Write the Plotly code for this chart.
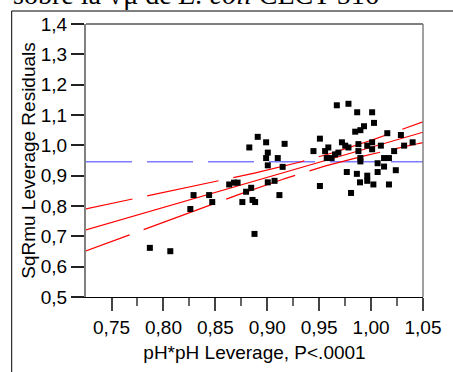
import numpy as np
import plotly.graph_objects as go

# ---- data ----
x_vals = [0.7869, 0.8066, 0.829, 0.8259, 0.844, 0.847, 0.8633, 0.868, 0.8714, 0.8827,
          0.8796, 0.876, 0.8845, 0.8858, 0.8883, 0.8877, 0.8908, 0.8989, 0.9005, 0.8989,
          0.9005, 0.9101, 0.9148, 0.9167, 0.9005, 0.907, 0.9117, 0.9507, 0.9445, 0.9557,
          0.9588, 0.9573, 0.962, 0.9653, 0.9685, 0.9507, 0.967, 0.9782, 0.9866, 1.001,
          0.9932, 0.9897, 0.9847, 1.0028, 0.9719, 0.9751, 0.9782, 0.9878, 0.9878, 0.9897,
          0.9897, 0.9963, 1.001, 1.001, 1.0094, 1.0156, 1.0287, 1.040, 1.0318, 1.0222,
          1.0125, 1.0172, 1.0063, 1.0125, 1.0238, 1.0063, 0.9766, 0.9863, 0.9963, 0.9963,
          0.9893, 1.0022, 1.0172, 0.9807]
y_vals = [0.662, 0.651, 0.836, 0.790, 0.836, 0.813, 0.871, 0.877, 0.877, 0.993,
          0.847, 0.813, 0.860, 0.820, 0.813, 0.708, 1.028, 1.010, 0.976, 0.958,
          0.934, 0.958, 0.929, 1.005, 0.878, 0.883, 0.836, 1.022, 0.981, 0.981,
          0.993, 0.958, 0.958, 0.970, 0.976, 0.866, 1.132, 1.137, 1.109, 1.109,
          1.063, 1.050, 1.045, 1.074, 1.010, 0.999, 0.993, 1.004, 0.981, 0.958,
          0.947, 0.999, 1.010, 0.987, 0.999, 1.040, 1.034, 1.010, 0.999, 0.981,
          0.958, 0.958, 0.941, 0.930, 0.918, 0.912, 0.912, 0.906, 0.900, 0.883,
          0.878, 0.871, 0.871, 0.843]

# fitted line / confidence curve parameters
mean_x = 0.952
mean_y = 0.946
fit_slope = 0.992
conf_a = 0.000327
conf_b = 0.08635

x_range = [0.7254, 1.05]
y_range = [0.5, 1.4]
x_ticks = [0.75, 0.80, 0.85, 0.90, 0.95, 1.00, 1.05]
y_ticks = [0.5, 0.6, 0.7, 0.8, 0.9, 1.0, 1.1, 1.2, 1.3, 1.4]

x_title = "pH*pH Leverage, P<.0001"
y_title = "SqRmu Leverage Residuals"
top_text = "sobre la √μ de <i>E. coli</i> CECT 516"

# ---- curves ----
xs = np.linspace(x_range[0] - 0.024, x_range[1], 200)
fit = mean_y + fit_slope * (xs - mean_x)
hw = np.sqrt(conf_a + conf_b * (xs - mean_x) ** 2)

fig = go.Figure()
fig.add_trace(go.Scatter(x=[x_range[0], x_range[1]], y=[mean_y, mean_y], mode="lines",
                         line=dict(color="rgb(125,125,255)", width=1.5, dash="46px,15px"),
                         hoverinfo="skip"))
fig.add_trace(go.Scatter(x=xs, y=fit + hw, mode="lines",
                         line=dict(color="red", width=1.2, dash="73px,15px"), hoverinfo="skip"))
fig.add_trace(go.Scatter(x=xs, y=fit - hw, mode="lines",
                         line=dict(color="red", width=1.2, dash="73px,15px"), hoverinfo="skip"))
fig.add_trace(go.Scatter(x=xs, y=fit, mode="lines",
                         line=dict(color="red", width=1.2), hoverinfo="skip"))
fig.add_trace(go.Scatter(x=x_vals, y=y_vals, mode="markers",
                         marker=dict(symbol="square", size=6, color="black",
                                     line=dict(width=0)),
                         cliponaxis=False))

font_family = "Liberation Sans, Arial, sans-serif"
fig.update_layout(
    width=453, height=372,
    margin=dict(l=86, r=20, t=24, b=75),
    paper_bgcolor="white", plot_bgcolor="white",
    showlegend=False,
    separators=",.",
    font=dict(family=font_family, size=19, color="black"),
    xaxis=dict(range=x_range, tickvals=x_ticks, tickformat=".2f",
               showgrid=False, zeroline=False,
               showline=True, linecolor="black", linewidth=1,
               ticks="outside", ticklen=13, tickwidth=1.5, tickcolor="#444",
               minor=dict(dtick=0.025, tick0=0.725, ticks="outside", ticklen=8,
                          tickwidth=1.5, tickcolor="#666", showgrid=False),
               title=dict(text=x_title, standoff=8, font=dict(size=19)),
               tickfont=dict(size=19)),
    yaxis=dict(range=y_range, tickvals=y_ticks, tickformat=".1f",
               showgrid=False, zeroline=False,
               showline=True, linecolor="#808080", linewidth=2,
               ticks="outside", ticklen=13, tickwidth=1.5, tickcolor="#222",
               title=dict(text=y_title, standoff=0, font=dict(size=19)),
               tickfont=dict(size=19)),
    shapes=[
        dict(type="line", xref="paper", yref="paper", x0=0, x1=1, y0=1, y1=1,
             line=dict(color="black", width=1)),
        dict(type="line", xref="paper", yref="paper", x0=1, x1=1, y0=0, y1=1,
             line=dict(color="#808080", width=1.5)),
        dict(type="rect", xref="paper", yref="paper", x0=-0.2205, x1=1.3,
             y0=-0.5, y1=1.0476, line=dict(color="black", width=1)),
    ],
    annotations=[
        dict(text=top_text, xref="paper", yref="paper", x=-0.222, y=1.043,
             xanchor="left", yanchor="bottom", showarrow=False,
             font=dict(family="Liberation Serif, Times New Roman, serif", size=28,
                       color="black")),
    ],
)

fig.write_html("out.html")
